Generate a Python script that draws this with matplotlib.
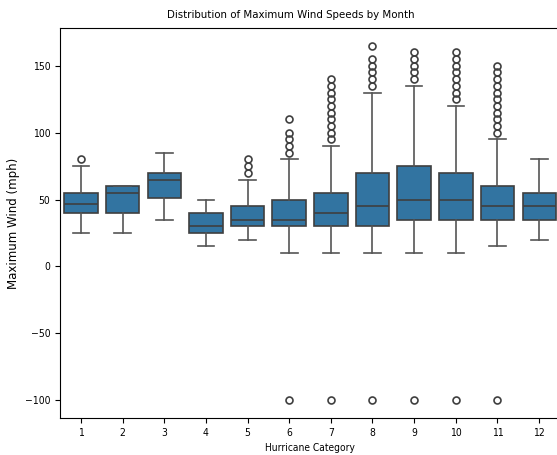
import numpy as np
import matplotlib.pyplot as plt

# monthly box statistics
months = [1, 2, 3, 4, 5, 6, 7, 8, 9, 10, 11, 12]
q1 = [40, 40, 51, 25, 30, 30, 30, 30, 35, 35, 35, 35]
med = [47, 55, 65, 30, 35, 35, 40, 45, 50, 50, 45, 45]
q3 = [55, 60, 70, 40, 45, 50, 55, 70, 75, 70, 60, 55]
whislo = [25, 25, 35, 15, 20, 10, 10, 10, 10, 10, 15, 20]
whishi = [75, 60, 85, 50, 65, 80, 90, 130, 135, 120, 95, 80]
fliers = [
    [80],
    [],
    [],
    [],
    [70, 75, 80],
    [85, 90, 95, 100, 110, -100],
    [95, 100, 105, 110, 115, 120, 125, 130, 135, 140, -100],
    [135, 140, 145, 150, 155, 165, -100],
    [140, 145, 150, 155, 160, -100],
    [125, 130, 135, 140, 145, 150, 155, 160, -100],
    [100, 105, 110, 115, 120, 125, 130, 135, 140, 145, 150, -100],
    [],
]

stats = []
for i in range(len(months)):
    stats.append({"label": str(months[i]), "q1": q1[i], "med": med[i], "q3": q3[i],
                  "whislo": whislo[i], "whishi": whishi[i], "fliers": fliers[i]})

fig = plt.figure(figsize=(5.57, 4.55), dpi=100)
ax = fig.add_axes([60 / 557, 1 - 418 / 455, 500 / 557, 390 / 455])

line = "#3f3f3f"
ax.bxp(stats, positions=range(len(months)), widths=0.8, patch_artist=True,
       boxprops=dict(facecolor="#3274a1", edgecolor=line, linewidth=1.2),
       medianprops=dict(color=line, linewidth=1.2),
       whiskerprops=dict(color="#555555", linewidth=1.2),
       capprops=dict(color="#555555", linewidth=1.2),
       flierprops=dict(marker="o", markerfacecolor="none", markeredgecolor=line,
                       markersize=5, markeredgewidth=1.2))

ax.set_xlim(-0.5, len(months) - 0.5)
ax.set_ylim(-113.25, 178.25)
ax.set_yticks([-100, -50, 0, 50, 100, 150])

cond = ["DejaVu Sans Condensed", "Liberation Sans Narrow", "DejaVu Sans"]
ax.tick_params(labelsize=7.5)
for lab in ax.get_xticklabels() + ax.get_yticklabels():
    lab.set_family(cond)
    lab.set_stretch("condensed")
ax.set_title("Distribution of Maximum Wind Speeds by Month", fontsize=8.2, family=cond,
             stretch="condensed", pad=7, x=(291 - 60) / 500)
ax.set_xlabel("Hurricane Category", fontsize=7.3, family=cond, stretch="condensed", labelpad=4)
ax.set_ylabel("Maximum Wind (mph)", fontsize=8.5)
ax.yaxis.set_label_coords(-0.08, 0.5)

fig.savefig("out.png", dpi=100)
